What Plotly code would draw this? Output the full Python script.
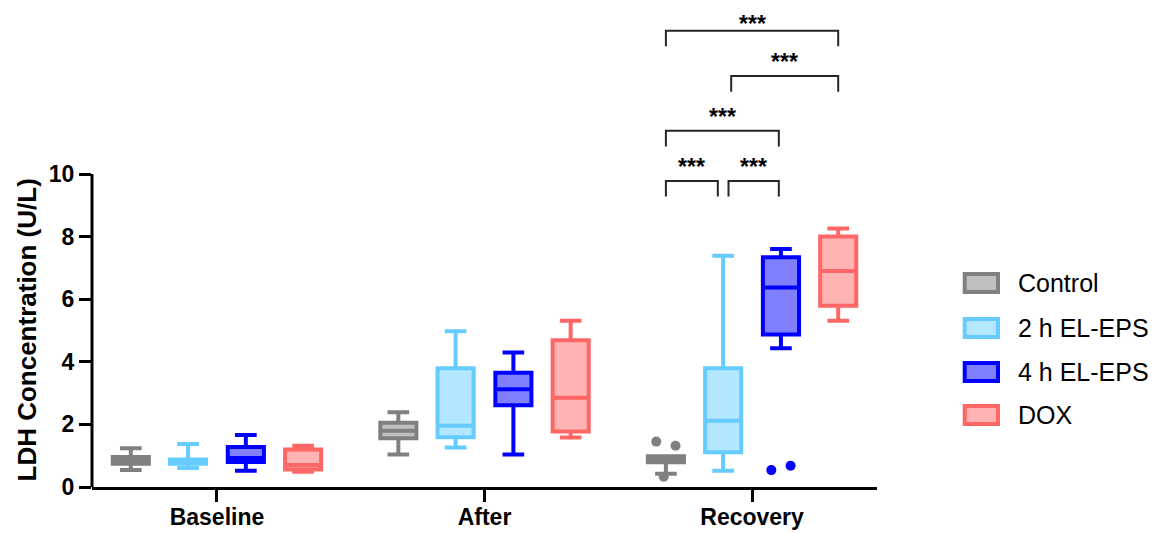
import plotly.graph_objects as go

# ---------------- data ----------------
categories = ["Baseline", "After", "Recovery"]
groups = ["Control", "2 h EL-EPS", "4 h EL-EPS", "DOX"]

control_lower = [0.54, 1.04, 0.42]
control_q1 = [0.74, 1.56, 0.79]
control_median = [0.83, 1.80, 0.90]
control_q3 = [0.96, 2.05, 0.98]
control_upper = [1.24, 2.39, 0.98]

eps2_lower = [0.61, 1.26, 0.52]
eps2_q1 = [0.74, 1.59, 1.11]
eps2_median = [0.80, 1.96, 2.12]
eps2_q3 = [0.88, 3.79, 3.79]
eps2_upper = [1.37, 4.98, 7.39]

eps4_lower = [0.52, 1.04, 4.43]
eps4_q1 = [0.80, 2.61, 4.87]
eps4_median = [0.93, 3.12, 6.37]
eps4_q3 = [1.28, 3.65, 7.34]
eps4_upper = [1.66, 4.30, 7.60]

dox_lower = [0.49, 1.58, 5.31]
dox_q1 = [0.56, 1.77, 5.79]
dox_median = [0.70, 2.85, 6.90]
dox_q3 = [1.20, 4.69, 8.00]
dox_upper = [1.32, 5.31, 8.26]

# outliers (Recovery)
control_outliers = [1.45, 1.32, 0.33]
eps4_outliers = [0.54, 0.68]

# significance comparisons at Recovery (group index pairs) and labels
comparisons = [(0, 3), (1, 3), (0, 2), (0, 1), (1, 2)]
comparison_labels = ["***", "***", "***", "***", "***"]

y_ticks = [0, 2, 4, 6, 8, 10]

# ---------------- styles / layout ----------------
line_colors = ["#808080", "#66ccff", "#0000ff", "#ff6666"]
fill_colors = ["#bfbfbf", "#b3e6ff", "#8080ff", "#ffb3b3"]
offsets = [-0.322, -0.108, 0.108, 0.322]
box_width = 0.135
outlier_jitter_control = [-0.036, 0.036, -0.008]
outlier_jitter_eps4 = [-0.036, 0.036]
bracket_tops = [14.58, 13.13, 11.38, 9.78, 9.78]
bracket_drop = 0.5
bracket_insets = [(0.0, 0.0), (0.03, 0.0), (0.0, -0.008), (0.0, -0.02), (0.02, -0.008)]

FONT = "Liberation Sans, Arial, sans-serif"

# page pixel geometry (page has an 8px body margin)
PAGE_W, PAGE_H, BODY = 1156, 533, 8
L, R_, T, B = 92, 877, 10, 487
PX_PER_UNIT = 31.3
Y_MAX = (B - T) / PX_PER_UNIT
# keep star labels' text boxes inside the figure
STAR_MAX_Y = (B - 24) / PX_PER_UNIT

stats = [
    (control_lower, control_q1, control_median, control_q3, control_upper),
    (eps2_lower, eps2_q1, eps2_median, eps2_q3, eps2_upper),
    (eps4_lower, eps4_q1, eps4_median, eps4_q3, eps4_upper),
    (dox_lower, dox_q1, dox_median, dox_q3, dox_upper),
]

fig = go.Figure()
for gi, name in enumerate(groups):
    lo, q1, med, q3, up = stats[gi]
    fig.add_trace(go.Box(
        name=name,
        x=[ci + offsets[gi] for ci in range(len(categories))],
        lowerfence=lo, q1=q1, median=med, q3=q3, upperfence=up,
        width=box_width,
        whiskerwidth=0.6,
        line=dict(color=line_colors[gi], width=4),
        fillcolor=fill_colors[gi],
        boxpoints=False,
        showlegend=False,
        hoverinfo="y",
    ))

rec = categories.index("Recovery")
fig.add_trace(go.Scatter(
    x=[rec + offsets[0] + j for j in outlier_jitter_control],
    y=control_outliers, mode="markers",
    marker=dict(color=line_colors[0], size=10), showlegend=False))
fig.add_trace(go.Scatter(
    x=[rec + offsets[2] + j for j in outlier_jitter_eps4],
    y=eps4_outliers, mode="markers",
    marker=dict(color=line_colors[2], size=10), showlegend=False))

shapes = []
annotations = []

# y axis line only from 0 to 10
shapes.append(dict(type="line", xref="paper", yref="y", x0=0, x1=0,
                   y0=y_ticks[0], y1=y_ticks[-1],
                   line=dict(color="black", width=3)))

# significance brackets
for k, (a, b) in enumerate(comparisons):
    xa = rec + offsets[a] + bracket_insets[k][0]
    xb = rec + offsets[b] + bracket_insets[k][1]
    top = bracket_tops[k]
    shapes.append(dict(
        type="path", xref="x", yref="y",
        path=f"M {xa},{top - bracket_drop} L {xa},{top} L {xb},{top} L {xb},{top - bracket_drop}",
        line=dict(color="#262626", width=2)))
    annotations.append(dict(
        x=(xa + xb) / 2, y=min(top + 0.45, STAR_MAX_Y), xref="x", yref="y",
        text=comparison_labels[k], showarrow=False, yanchor="middle",
        font=dict(family=FONT, size=23, color="black", weight="bold")))

def px_x(p):
    return (p - L) / (R_ - L)
def px_y(p):
    return (B - p) / (B - T)

# y axis title
annotations.append(dict(
    x=px_x(26), y=5, xref="paper", yref="y", text="LDH Concentration (U/L)",
    textangle=-90, showarrow=False, xanchor="center", yanchor="middle",
    font=dict(family=FONT, size=26, color="black", weight="bold")))

# custom legend
legend_rows = [283, 328, 372, 415]
for gi, name in enumerate(groups):
    cy = legend_rows[gi]
    shapes.append(dict(
        type="rect", xref="paper", yref="paper",
        x0=px_x(964.7), x1=px_x(998), y0=px_y(cy + 9), y1=px_y(cy - 9),
        line=dict(color=line_colors[gi], width=4), fillcolor=fill_colors[gi]))
    annotations.append(dict(
        x=px_x(1016), y=px_y(cy), xref="paper", yref="paper", text=name,
        showarrow=False, xanchor="left", yanchor="middle",
        font=dict(family=FONT, size=25, color="black")))

fig_w, fig_h = PAGE_W - BODY, PAGE_H - BODY
fig.update_layout(
    width=fig_w, height=fig_h,
    margin=dict(l=L - BODY, r=fig_w - (R_ - BODY), t=T - BODY, b=fig_h - (B - BODY), pad=0),
    paper_bgcolor="white", plot_bgcolor="white",
    boxmode="overlay",
    shapes=shapes, annotations=annotations,
    font=dict(family=FONT, color="black"),
)
fig.update_xaxes(
    range=[-0.467, 2.467], tickvals=list(range(len(categories))), ticktext=categories,
    showline=True, linecolor="black", linewidth=3,
    ticks="outside", ticklen=12, tickwidth=3, tickcolor="black",
    ticklabelstandoff=-5,
    showgrid=False, zeroline=False, automargin=False,
    tickfont=dict(family=FONT, size=23, color="black", weight="bold"),
)
fig.update_yaxes(
    range=[0, Y_MAX], tickvals=y_ticks, ticktext=[str(v) for v in y_ticks],
    showline=False, ticks="outside", ticklen=12, tickwidth=3, tickcolor="black",
    showgrid=False, zeroline=False, automargin=False,
    tickfont=dict(family=FONT, size=23, color="black", weight="bold"),
)

fig.write_html("out.html")
